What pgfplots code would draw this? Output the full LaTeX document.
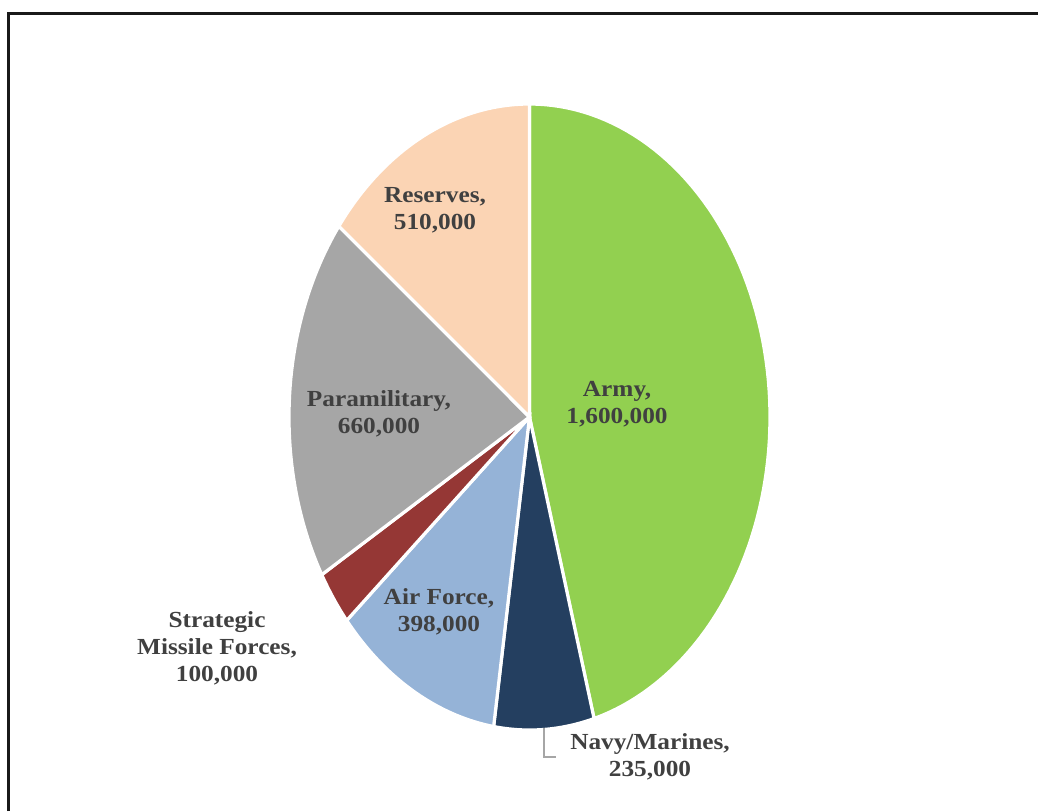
\documentclass[border=0pt]{standalone}
\usepackage{pgfplots}
\pgfplotsset{compat=1.18}
\usepackage{pgfplotstable}
\usepackage{fontspec}
\setmainfont{Liberation Serif}[FakeStretch=1.1]
\definecolor{armyc}{HTML}{92D050}
\definecolor{navyc}{HTML}{243F60}
\definecolor{airc}{HTML}{95B3D7}
\definecolor{smfc}{HTML}{953735}
\definecolor{parac}{HTML}{A6A6A6}
\definecolor{resc}{HTML}{FBD4B4}
\definecolor{txtc}{HTML}{404040}
\pgfplotstableread{
value color
1600 armyc
235 navyc
398 airc
100 smfc
660 parac
510 resc
}\pietable
\begin{document}
\begin{tikzpicture}[lab/.style={align=center, inner sep=0pt, text=txtc,
    font=\bfseries\fontsize{11.5}{13.5}\selectfont}]
\begin{axis}[scale only axis, width=519pt, height=405.5pt,
  xmin=0, xmax=1038, ymin=0, ymax=811, y dir=reverse, hide axis]
\path (axis cs:0,0) rectangle (axis cs:1038,811);
\def\total{3503}
\def\cur{90}
\pgfplotsforeachungrouped \i in {0,1,2,3,4,5}{%
  \pgfplotstablegetelem{\i}{value}\of\pietable \let\v\pgfplotsretval
  \pgfplotstablegetelem{\i}{color}\of\pietable \let\c\pgfplotsretval
  \pgfmathsetmacro\nxt{\cur-\v/\total*360}%
  \edef\temp{\noexpand\addplot[fill=\c, draw=white, line width=1.6pt, line join=miter, domain=\nxt:\cur, samples=90, variable=\noexpand\t] ({529.5+240.5*cos(\noexpand\t)},{417-313*sin(\noexpand\t)}) -- (axis cs:529.5,417) -- cycle;}%
  \temp
  \global\let\cur\nxt
}
% frame (top and left visible)
\draw[line width=1.5pt, black!90] (axis cs:8.5,811) -- (axis cs:8.5,13) -- (axis cs:1038,13);
% leader line
\draw[line width=0.6pt, parac] (axis cs:544,728) -- (axis cs:544,757) -- (axis cs:556,757);
\node[lab] at (axis cs:617,404.5) {Army,\\1,600,000};
\node[lab] at (axis cs:650,756.5) {Navy/Marines,\\235,000};
\node[lab] at (axis cs:439,612) {Air Force,\\398,000};
\node[lab] at (axis cs:217,648) {Strategic\\Missile Forces,\\100,000};
\node[lab] at (axis cs:379,414) {Paramilitary,\\660,000};
\node[lab] at (axis cs:435,210) {Reserves,\\510,000};
\end{axis}
\end{tikzpicture}
\end{document}
